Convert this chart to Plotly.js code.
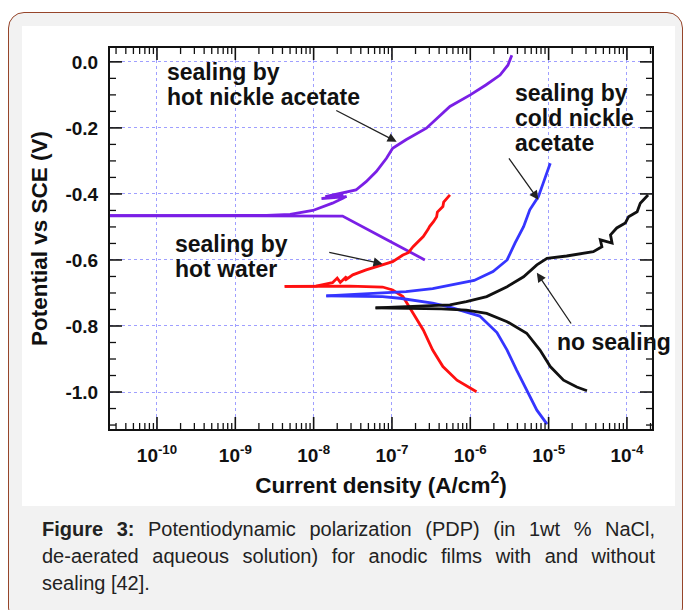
<!DOCTYPE html>
<html><head><meta charset="utf-8">
<script src="https://cdn.plot.ly/plotly-3.0.1.min.js"></script>
<style>
html,body{margin:0;padding:0;background:#fff;width:684px;height:610px;overflow:hidden;font-family:"Liberation Sans",Arial,sans-serif;}
#frame{position:absolute;left:8px;top:12px;width:673px;height:610px;border:1.5px solid #96452a;border-radius:16px;background:#f2f2f2;}
#white{position:absolute;left:22px;top:26px;width:653px;height:480px;background:#fff;}
#plot{position:absolute;left:0;top:0;width:684px;height:610px;}
.cap{position:absolute;left:42px;width:613px;font-size:20px;line-height:27px;color:#222;}
.j{text-align:justify;text-align-last:justify;}
</style></head>
<body>
<div id="frame"></div>
<div id="white"></div>
<div id="plot"></div>
<div class="cap j" style="top:516px;"><b>Figure 3:</b> Potentiodynamic polarization (PDP) (in 1wt % NaCl,</div>
<div class="cap j" style="top:543px;">de-aerated aqueous solution) for anodic films with and without</div>
<div class="cap" style="top:570px;">sealing [42].</div>
<script>
// Current density (A/cm^2) and potential (V vs SCE)
// Sealing by hot nickel acetate (purple)
const hnaCathI = [2.0e-11, 3.16e-9, 2.34e-8, 7.94e-8, 1.78e-7, 2.63e-7];
const hnaCathE = [-0.466, -0.466, -0.467, -0.534, -0.580, -0.600];
const hnaAnodI = [2.0e-11, 2.51e-9, 5.01e-9, 9.77e-9, 1.74e-8, 2.63e-8, 1.26e-8, 2.40e-8, 1.41e-8, 3.47e-8, 4.68e-8, 6.31e-8, 8.51e-8, 1.02e-7, 1.51e-7, 2.75e-7, 5.50e-7, 1.0e-6, 1.58e-6, 2.40e-6, 3.02e-6, 3.39e-6];
const hnaAnodE = [-0.466, -0.465, -0.462, -0.450, -0.428, -0.408, -0.414, -0.404, -0.408, -0.388, -0.363, -0.332, -0.292, -0.262, -0.236, -0.201, -0.135, -0.100, -0.070, -0.040, -0.010, 0.020];
// Sealing by hot water (red)
const hwCathI = [4.27e-9, 2.88e-8, 7.59e-8, 1.02e-7, 1.38e-7, 1.86e-7, 2.51e-7, 3.31e-7, 4.47e-7, 6.76e-7, 1.20e-6];
const hwCathE = [-0.680, -0.679, -0.682, -0.691, -0.711, -0.761, -0.812, -0.873, -0.923, -0.964, -0.999];
const hwAnodI = [4.27e-9, 1.07e-8, 1.74e-8, 2.00e-8, 2.19e-8, 2.63e-8, 2.51e-8, 3.16e-8, 4.68e-8, 7.59e-8, 1.02e-7, 1.38e-7, 1.62e-7, 1.86e-7, 2.51e-7, 2.88e-7, 3.02e-7, 3.39e-7, 3.72e-7, 3.80e-7, 4.47e-7, 4.57e-7, 5.50e-7];
const hwAnodE = [-0.680, -0.679, -0.669, -0.655, -0.668, -0.650, -0.662, -0.645, -0.630, -0.615, -0.605, -0.585, -0.578, -0.560, -0.529, -0.508, -0.499, -0.484, -0.469, -0.455, -0.438, -0.425, -0.403];
// Sealing by cold nickel acetate (blue)
const cnaCathI = [1.45e-8, 7.59e-8, 1.26e-7, 2.04e-7, 3.31e-7, 5.50e-7, 8.91e-7, 1.32e-6, 2.19e-6, 2.95e-6, 3.89e-6, 5.25e-6, 7.08e-6, 9.55e-6];
const cnaCathE = [-0.709, -0.711, -0.716, -0.723, -0.731, -0.743, -0.757, -0.770, -0.820, -0.873, -0.933, -0.994, -1.055, -1.097];
const cnaAnodI = [1.45e-8, 7.59e-8, 1.51e-7, 3.31e-7, 6.61e-7, 1.12e-6, 1.95e-6, 2.95e-6, 3.72e-6, 4.79e-6, 5.75e-6, 7.41e-6, 8.51e-6, 1.05e-5];
const cnaAnodE = [-0.709, -0.700, -0.696, -0.687, -0.672, -0.662, -0.635, -0.600, -0.549, -0.499, -0.448, -0.408, -0.368, -0.307];
// No sealing (black)
const nsCathI = [6.17e-8, 4.27e-7, 8.91e-7, 1.62e-6, 2.95e-6, 5.25e-6, 7.76e-6, 1.05e-5, 1.55e-5, 2.29e-5, 3.09e-5];
const nsCathE = [-0.745, -0.748, -0.752, -0.762, -0.787, -0.822, -0.873, -0.923, -0.964, -0.985, -0.996];
const nsAnodI = [6.17e-8, 5.50e-7, 8.91e-7, 1.62e-6, 2.95e-6, 4.79e-6, 7.08e-6, 9.55e-6, 1.70e-5, 2.75e-5, 3.72e-5, 4.79e-5, 4.57e-5, 6.46e-5, 6.17e-5, 7.41e-5, 9.55e-5, 1.05e-4, 1.35e-4, 1.48e-4, 1.86e-4];
const nsAnodE = [-0.745, -0.736, -0.726, -0.711, -0.681, -0.651, -0.615, -0.595, -0.588, -0.579, -0.575, -0.560, -0.539, -0.549, -0.524, -0.503, -0.488, -0.469, -0.454, -0.428, -0.403];

const xTickVals = [1e-10, 1e-9, 1e-8, 1e-7, 1e-6, 1e-5, 1e-4];
const xTickText = ['10<sup>-10</sup>', '10<sup>-9</sup>', '10<sup>-8</sup>', '10<sup>-7</sup>', '10<sup>-6</sup>', '10<sup>-5</sup>', '10<sup>-4</sup>'];
const yTickVals = [0, -0.2, -0.4, -0.6, -0.8, -1.0];
const yTickText = ['0.0', '-0.2', '-0.4', '-0.6', '-0.8', '-1.0'];

const XRANGE = [-10.6, -3.68], YRANGE = [-1.112, 0.042];

// axis tick marks (drawn as pixel-sized shapes, inside the frame, on all four sides)
const minorX = [];
for (let d = -11; d <= -4; d++) { for (let k = 2; k <= 9; k++) { const v = k * Math.pow(10, d); const l = Math.log10(v); if (l > XRANGE[0] && l < XRANGE[1]) minorX.push(v); } }
const minorY = [];
for (let i = 1; i <= 22; i++) { const v = Math.round(-i * 5) / 100 + 0.0; if (v > YRANGE[0] && Math.abs(v * 5 - Math.round(v * 5)) > 1e-6) minorY.push(v); }
const TICKC = '#111';
function xTick(v, len, w) {
  return [
    {type: 'line', layer: 'above', xref: 'x', yref: 'paper', ysizemode: 'pixel', yanchor: 0, x0: v, x1: v, y0: 0, y1: len, line: {color: TICKC, width: w}},
    {type: 'line', layer: 'above', xref: 'x', yref: 'paper', ysizemode: 'pixel', yanchor: 1, x0: v, x1: v, y0: 0, y1: -len, line: {color: TICKC, width: w}}
  ];
}
function yTick(v, len, w) {
  return [
    {type: 'line', layer: 'above', xref: 'paper', yref: 'y', xsizemode: 'pixel', xanchor: 0, x0: 0, x1: len, y0: v, y1: v, line: {color: TICKC, width: w}},
    {type: 'line', layer: 'above', xref: 'paper', yref: 'y', xsizemode: 'pixel', xanchor: 1, x0: 0, x1: -len, y0: v, y1: v, line: {color: TICKC, width: w}}
  ];
}
let shapes = [];
xTickVals.forEach(v => { shapes = shapes.concat(xTick(v, 12, 1.6)); });
minorX.forEach(v => { shapes = shapes.concat(xTick(v, 6, 1.3)); });
yTickVals.forEach(v => { shapes = shapes.concat(yTick(v, 12, 1.6)); });
minorY.forEach(v => { shapes = shapes.concat(yTick(v, 6, 1.3)); });

const FONT = 'Liberation Sans, Arial, sans-serif';
const PURPLE = '#7a1fe6', RED = '#ff1010', BLUE = '#3535ff', BLACK = '#111111';
function tr(x, y, c) { return {x: x, y: y, type: 'scatter', mode: 'lines', line: {color: c, width: 2.8}, showlegend: false, hoverinfo: 'skip'}; }
const data = [
  tr(hnaCathI, hnaCathE, PURPLE), tr(hnaAnodI, hnaAnodE, PURPLE),
  tr(hwCathI, hwCathE, RED), tr(hwAnodI, hwAnodE, RED),
  tr(cnaCathI, cnaCathE, BLUE), tr(cnaAnodI, cnaAnodE, BLUE),
  tr(nsCathI, nsCathE, BLACK), tr(nsAnodI, nsAnodE, BLACK)
];

const lblFont = {family: FONT, size: 23, color: '#111', weight: 'bold'};
function lbl(x, y, t) { return {x: x, y: y, xref: 'x', yref: 'y', text: t, showarrow: false, xanchor: 'left', yanchor: 'middle', align: 'left', font: lblFont}; }
function arr(x, y, ax, ay) { return {x: x, y: y, xref: 'x', yref: 'y', axref: 'x', ayref: 'y', ax: ax, ay: ay, text: '', showarrow: true, arrowhead: 2, arrowsize: 1.4, arrowwidth: 1.3, arrowcolor: '#222'}; }
const annotations = [
  lbl(-9.9, -0.030, 'sealing by'),
  lbl(-9.9, -0.106, 'hot nickle acetate'),
  lbl(-5.45, -0.094, 'sealing by'),
  lbl(-5.45, -0.170, 'cold nickle'),
  lbl(-5.45, -0.245, 'acetate'),
  lbl(-9.79, -0.552, 'sealing by'),
  lbl(-9.79, -0.627, 'hot water'),
  lbl(-4.92, -0.848, 'no sealing'),
  arr(-6.94, -0.242, -7.73, -0.145),
  arr(-5.13, -0.418, -5.52, -0.288),
  arr(-7.12, -0.612, -7.82, -0.576),
  arr(-5.15, -0.639, -4.70, -0.797)
];

const axCommon = {
  ticks: '', showline: true, linecolor: '#111', linewidth: 2, mirror: true,
  showgrid: true, gridcolor: '#9f9fff', griddash: 'dot', gridwidth: 1, zeroline: false,
  tickfont: {family: FONT, size: 19, color: '#111', weight: 'bold'}
};
const layout = {
  width: 684, height: 610,
  margin: {l: 110, r: 32, t: 48, b: 181},
  paper_bgcolor: 'rgba(0,0,0,0)', plot_bgcolor: '#ffffff',
  font: {family: FONT},
  xaxis: Object.assign({}, axCommon, {
    type: 'log', range: XRANGE, tickmode: 'array', tickvals: xTickVals, ticktext: xTickText,
    ticklabelstandoff: 8,
    title: {text: 'Current density (A/cm<sup>2</sup>)', font: {family: FONT, size: 22.5, color: '#111', weight: 'bold'}, standoff: 12}
  }),
  yaxis: Object.assign({}, axCommon, {
    range: YRANGE, tickmode: 'array', tickvals: yTickVals, ticktext: yTickText,
    ticklabelstandoff: 6,
    title: {text: 'Potential vs SCE (V)', font: {family: FONT, size: 22.5, color: '#111', weight: 'bold'}, standoff: 12}
  }),
  shapes: shapes,
  annotations: annotations
};
Plotly.newPlot('plot', data, layout, {staticPlot: true, displayModeBar: false});
</script>
</body></html>
